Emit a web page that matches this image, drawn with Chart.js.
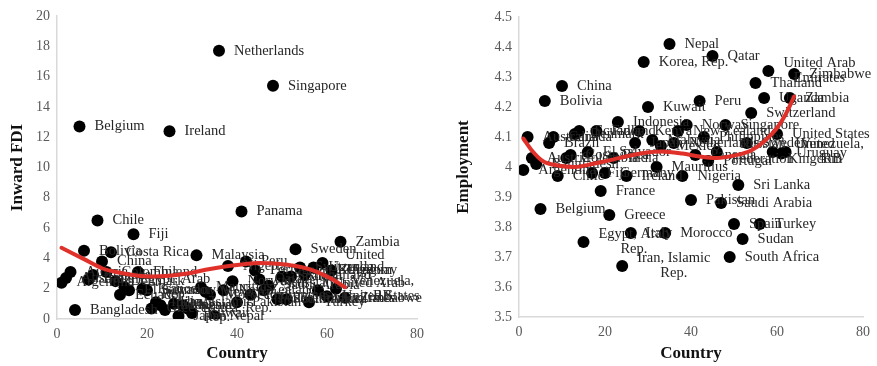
<!DOCTYPE html>
<html lang="en">
<head>
<meta charset="UTF-8">
<title>Inward FDI and Employment by Country</title>
<script src="https://cdn.jsdelivr.net/npm/chart.js"></script>
<style>
  body { margin: 0; background: #fff; }
  .wrap { position: absolute; top: 0; height: 366px; }
  #left { left: 0; width: 440px; }
  #right { left: 440px; width: 437px; }
</style>
</head>
<body>
<div class="wrap" id="left"><canvas id="fdiChart"></canvas></div>
<div class="wrap" id="right"><canvas id="empChart"></canvas></div>
<script>
// countries in alphabetical order, x = position in this list (1..64)
const countries = [
  'Argentina', 'Australia', 'Austria', 'Bangladesh', 'Belgium', 'Bolivia', 'Brazil', 'Canada',
  'Chile', 'China', 'Colombia', 'Costa Rica', 'Denmark', 'Ecuador', 'Egypt, Arab Rep.', 'El Salvador',
  'Fiji', 'Finland', 'France', 'Germany', 'Greece', 'India', 'Indonesia', 'Iran, Islamic Rep.',
  'Ireland', 'Italy', 'Japan', 'Kenya', 'Korea, Rep.', 'Kuwait', 'Malaysia', 'Mauritius',
  'Mexico', 'Morocco', 'Nepal', 'Netherlands', 'New Zealand', 'Nigeria', 'Norway', 'Pakistan',
  'Panama', 'Peru', 'Philippines', 'Portugal', 'Qatar', 'Russian Federation', 'Saudi Arabia', 'Singapore',
  'South Africa', 'Spain', 'Sri Lanka', 'Sudan', 'Sweden', 'Switzerland', 'Thailand', 'Turkey',
  'Uganda', 'United Arab Emirates', 'United Kingdom', 'United States', 'Uruguay', 'Venezuela, RB', 'Zambia', 'Zimbabwe'
];

const inwardFdi = [
  2.4, 2.7, 3.1, 0.6, 12.7, 4.5, 2.6, 2.9,
  6.5, 3.8, 3.1, 4.4, 2.5, 1.6, 2.1, 1.9,
  5.6, 3.1, 2.0, 1.9, 0.7, 1.1, 0.9, 0.6,
  12.4, 1.0, 0.2, 0.9, 0.7, 0.4, 4.2, 2.1,
  1.8, 1.6, 0.2, 17.7, 1.9, 3.5, 2.5, 1.1,
  7.1, 3.8, 1.6, 3.2, 2.6, 1.9, 2.2, 15.4,
  1.3, 2.8, 1.3, 2.8, 4.6, 3.4, 2.9, 1.1,
  3.4, 1.9, 3.7, 1.5, 3.2, 2.0, 5.1, 1.4
];

const employment = [
  3.99, 4.10, 4.03, 4.01, 3.86, 4.22, 4.08, 4.10,
  3.97, 4.27, 4.03, 4.04, 4.11, 4.12, 3.75, 4.05,
  3.98, 4.12, 3.92, 3.98, 3.84, 4.03, 4.15, 3.67,
  3.97, 3.78, 4.08, 4.12, 4.35, 4.20, 4.09, 4.00,
  4.07, 3.78, 4.41, 4.08, 4.12, 3.97, 4.14, 3.89,
  4.04, 4.22, 4.10, 4.02, 4.37, 4.05, 3.88, 4.14,
  3.70, 3.81, 3.94, 3.76, 4.08, 4.18, 4.28, 3.81,
  4.23, 4.32, 4.05, 4.11, 4.045, 4.05, 4.23, 4.31
];

// trend curves
const fdiTrendX = [1, 6, 10, 14, 18, 21, 25, 29, 33, 37, 41, 45, 49, 53, 57, 61, 64];
const fdiTrendY = [4.7, 3.95, 3.35, 3.05, 2.85, 2.8, 2.85, 3.0, 3.25, 3.45, 3.6, 3.7, 3.65, 3.5, 3.2, 2.65, 2.1];
const empTrendX = [1, 3, 5.5, 9, 13, 17, 21, 25, 29, 33, 38, 42, 46, 50, 54, 57, 60, 62, 64];
const empTrendY = [4.095, 4.055, 4.02, 4.005, 4.0, 4.01, 4.022, 4.036, 4.047, 4.052, 4.045, 4.035, 4.03, 4.038, 4.055, 4.085, 4.13, 4.175, 4.235];

const SERIF = "'Liberation Serif', 'Times New Roman', serif";
const TREND_RED = '#e0302a';
Chart.defaults.font.family = SERIF;
Chart.defaults.animation = false;

function wrapLabel(ctx, text, maxWidth) {
  const words = text.split(' ');
  const lines = [];
  let cur = '';
  words.forEach(w => {
    const test = cur ? cur + ' ' + w : w;
    if (cur && ctx.measureText(test).width > maxWidth) {
      lines.push(cur);
      cur = w;
    } else {
      cur = test;
    }
  });
  if (cur) lines.push(cur);
  return lines;
}

// country names to the right of each dot, drawn before the trend line
const pointLabels = {
  id: 'pointLabels',
  afterDatasetDraw(chart, args) {
    if (args.index !== 0) return;
    const ctx = chart.ctx;
    ctx.save();
    ctx.font = '14.5px ' + SERIF;
    ctx.fillStyle = '#262626';
    ctx.textBaseline = 'middle';
    ctx.textAlign = 'center';
    args.meta.data.forEach((pt, i) => {
      const lines = wrapLabel(ctx, countries[i], 85);
      const w = Math.max(...lines.map(l => ctx.measureText(l).width));
      const cx = pt.x + 15 + w / 2;
      const lh = 15;
      lines.forEach((l, k) => ctx.fillText(l, cx, pt.y + (k - (lines.length - 1) / 2) * lh));
    });
    ctx.restore();
  }
};

function makeChart(id, values, trendX, trendY, cfg) {
  return new Chart(document.getElementById(id), {
    type: 'scatter',
    data: {
      datasets: [{
        data: values.map((v, i) => ({ x: i + 1, y: v })),
        backgroundColor: '#000',
        borderWidth: 0,
        pointRadius: 6,
        order: 1
      }, {
        data: trendX.map((x, i) => ({ x: x, y: trendY[i] })),
        showLine: true,
        borderColor: TREND_RED,
        borderWidth: 4,
        borderCapStyle: 'round',
        pointRadius: 0,
        cubicInterpolationMode: 'monotone',
        order: 0
      }]
    },
    options: {
      responsive: true,
      maintainAspectRatio: false,
      layout: { padding: { top: cfg.top, right: cfg.right, left: 0, bottom: 0 } },
      plugins: { legend: { display: false }, tooltip: { enabled: false } },
      scales: {
        x: {
          min: 0, max: 80,
          grid: { display: false, drawTicks: false },
          border: { display: true, color: '#d9d9d9', width: 1.5 },
          ticks: { stepSize: 20, padding: 7, color: '#595959', font: { size: 14 } },
          title: { display: true, text: 'Country', color: '#111', font: { size: 17, weight: 'bold' }, padding: { top: 0, bottom: 2 } },
          afterFit: s => { s.height = cfg.xHeight; }
        },
        y: {
          min: cfg.min, max: cfg.max,
          grid: { display: false, drawTicks: false },
          border: { display: true, color: '#d9d9d9', width: 1.5 },
          ticks: {
            stepSize: cfg.step, padding: 7, color: '#595959', font: { size: 14 },
            callback: v => String(Number(v.toFixed(1)))
          },
          title: { display: true, text: cfg.title, color: '#111', font: { size: 17, weight: 'bold' }, padding: { top: cfg.titlePad, bottom: 0 } },
          afterFit: s => { s.width = cfg.yWidth; }
        }
      }
    },
    plugins: [pointLabels]
  });
}

makeChart('fdiChart', inwardFdi, fdiTrendX, fdiTrendY, {
  min: 0, max: 20, step: 2, title: 'Inward FDI',
  top: 16, right: 23, yWidth: 57, xHeight: 47, titlePad: 7
});

makeChart('empChart', employment, empTrendX, empTrendY, {
  min: 3.5, max: 4.5, step: 0.1, title: 'Employment',
  top: 17, right: 12, yWidth: 79, xHeight: 49, titlePad: 13
});
</script>
</body>
</html>
